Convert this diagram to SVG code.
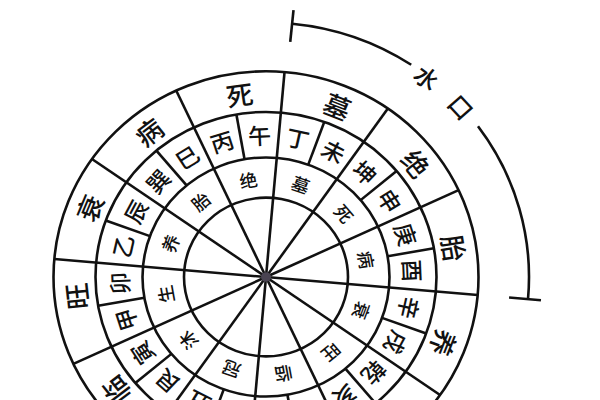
<svg xmlns="http://www.w3.org/2000/svg" width="600" height="400" viewBox="0 0 600 400">
<style>
.ln{stroke:#111;stroke-width:2.6;fill:none}
.tx{font-family:"Noto Sans CJK SC","Noto Sans CJK JP",sans-serif;fill:#111;text-anchor:middle;dominant-baseline:central;font-weight:500}
.o{font-size:27px}
.s{font-size:23px}
.i{font-size:18px}
.w{font-size:24px}
</style>
<rect width="600" height="400" fill="#fff"/>
<g id="chart" transform="translate(266 277) scale(1 0.968)">
<g id="rings" class="ln">
<circle r="82"/>
<circle r="123.5"/>
<circle r="170.5"/>
<circle r="212.5"/>
</g>
<g id="connectors" class="ln">
<line x1="0" y1="0" x2="0" y2="-212.5" transform="rotate(5)"/>
<line x1="0" y1="0" x2="0" y2="-212.5" transform="rotate(35)"/>
<line x1="0" y1="0" x2="0" y2="-212.5" transform="rotate(65)"/>
<line x1="0" y1="0" x2="0" y2="-212.5" transform="rotate(95)"/>
<line x1="0" y1="0" x2="0" y2="-212.5" transform="rotate(125)"/>
<line x1="0" y1="0" x2="0" y2="-212.5" transform="rotate(155)"/>
<line x1="0" y1="0" x2="0" y2="-212.5" transform="rotate(185)"/>
<line x1="0" y1="0" x2="0" y2="-212.5" transform="rotate(215)"/>
<line x1="0" y1="0" x2="0" y2="-212.5" transform="rotate(245)"/>
<line x1="0" y1="0" x2="0" y2="-212.5" transform="rotate(275)"/>
<line x1="0" y1="0" x2="0" y2="-212.5" transform="rotate(305)"/>
<line x1="0" y1="0" x2="0" y2="-212.5" transform="rotate(335)"/>
<line x1="0" y1="-123.5" x2="0" y2="-170.5" transform="rotate(20)"/>
<line x1="0" y1="-123.5" x2="0" y2="-170.5" transform="rotate(50)"/>
<line x1="0" y1="-123.5" x2="0" y2="-170.5" transform="rotate(80)"/>
<line x1="0" y1="-123.5" x2="0" y2="-170.5" transform="rotate(110)"/>
<line x1="0" y1="-123.5" x2="0" y2="-170.5" transform="rotate(140)"/>
<line x1="0" y1="-123.5" x2="0" y2="-170.5" transform="rotate(170)"/>
<line x1="0" y1="-123.5" x2="0" y2="-170.5" transform="rotate(200)"/>
<line x1="0" y1="-123.5" x2="0" y2="-170.5" transform="rotate(230)"/>
<line x1="0" y1="-123.5" x2="0" y2="-170.5" transform="rotate(260)"/>
<line x1="0" y1="-123.5" x2="0" y2="-170.5" transform="rotate(290)"/>
<line x1="0" y1="-123.5" x2="0" y2="-170.5" transform="rotate(320)"/>
<line x1="0" y1="-123.5" x2="0" y2="-170.5" transform="rotate(350)"/>
</g>
<circle id="hub" r="5" fill="#4a4452"/>
<g id="outer-ring" class="tx o">
<text transform="rotate(352) translate(0 -191)">死</text>
<text transform="rotate(22) translate(0 -191)">墓</text>
<text transform="rotate(52) translate(0 -191)">绝</text>
<text transform="rotate(81) translate(0 -191)">胎</text>
<text transform="rotate(111) translate(0 -191)">养</text>
<text transform="rotate(232) translate(0 -191)">临</text>
<text transform="rotate(264) translate(0 -191)">旺</text>
<text transform="rotate(292) translate(0 -191)">衰</text>
<text transform="rotate(322) translate(0 -191)">病</text>
</g>
<g id="mountain-ring" class="tx s">
<text transform="rotate(357.5) translate(0 -147)">午</text>
<text transform="rotate(12.5) translate(0 -147)">丁</text>
<text transform="rotate(27.5) translate(0 -147)">未</text>
<text transform="rotate(42.5) translate(0 -147)">坤</text>
<text transform="rotate(57.5) translate(0 -147)">申</text>
<text transform="rotate(72.5) translate(0 -147)">庚</text>
<text transform="rotate(87.5) translate(0 -147)">酉</text>
<text transform="rotate(102.5) translate(0 -147)">辛</text>
<text transform="rotate(117.5) translate(0 -147)">戌</text>
<text transform="rotate(132.5) translate(0 -147)">乾</text>
<text transform="rotate(147.5) translate(0 -147)">亥</text>
<text transform="rotate(207.5) translate(0 -147)">丑</text>
<text transform="rotate(222.5) translate(0 -147)">艮</text>
<text transform="rotate(237.5) translate(0 -147)">寅</text>
<text transform="rotate(252.5) translate(0 -147)">甲</text>
<text transform="rotate(267.5) translate(0 -147)">卯</text>
<text transform="rotate(282.5) translate(0 -147)">乙</text>
<text transform="rotate(297.5) translate(0 -147)">辰</text>
<text transform="rotate(312.5) translate(0 -147)">巽</text>
<text transform="rotate(327.5) translate(0 -147)">巳</text>
<text transform="rotate(342.5) translate(0 -147)">丙</text>
</g>
<g id="inner-ring" class="tx i">
<text transform="rotate(350) translate(0 -102.5)">绝</text>
<text transform="rotate(20) translate(0 -102.5)">墓</text>
<text transform="rotate(50) translate(0 -102.5)">死</text>
<text transform="rotate(80) translate(0 -102.5)">病</text>
<text transform="rotate(110) translate(0 -102.5)">衰</text>
<text transform="rotate(140) translate(0 -102.5)">旺</text>
<text transform="rotate(170) translate(0 -102.5)">临</text>
<text transform="rotate(200) translate(0 -102.5)">冠</text>
<text transform="rotate(230) translate(0 -102.5)">沐</text>
<text transform="rotate(260) translate(0 -102.5)">生</text>
<text transform="rotate(290) translate(0 -102.5)">养</text>
<text transform="rotate(320) translate(0 -102.5)">胎</text>
</g>
<g id="shuikou">
<path class="ln" d="M 26.1 -261.7 A 263 263 0 0 1 145.2 -219.3 M 212.0 -155.7 A 263 263 0 0 1 262.0 22.9"/>
<line class="ln" x1="0" y1="-244" x2="0" y2="-277" transform="rotate(5.7)"/>
<line class="ln" x1="0" y1="-244" x2="0" y2="-276" transform="rotate(95)"/>
<text class="tx w" transform="rotate(38) translate(0 -262)">水</text>
<text class="tx w" transform="rotate(48) translate(0 -263)">口</text>
</g>
</g>
</svg>
